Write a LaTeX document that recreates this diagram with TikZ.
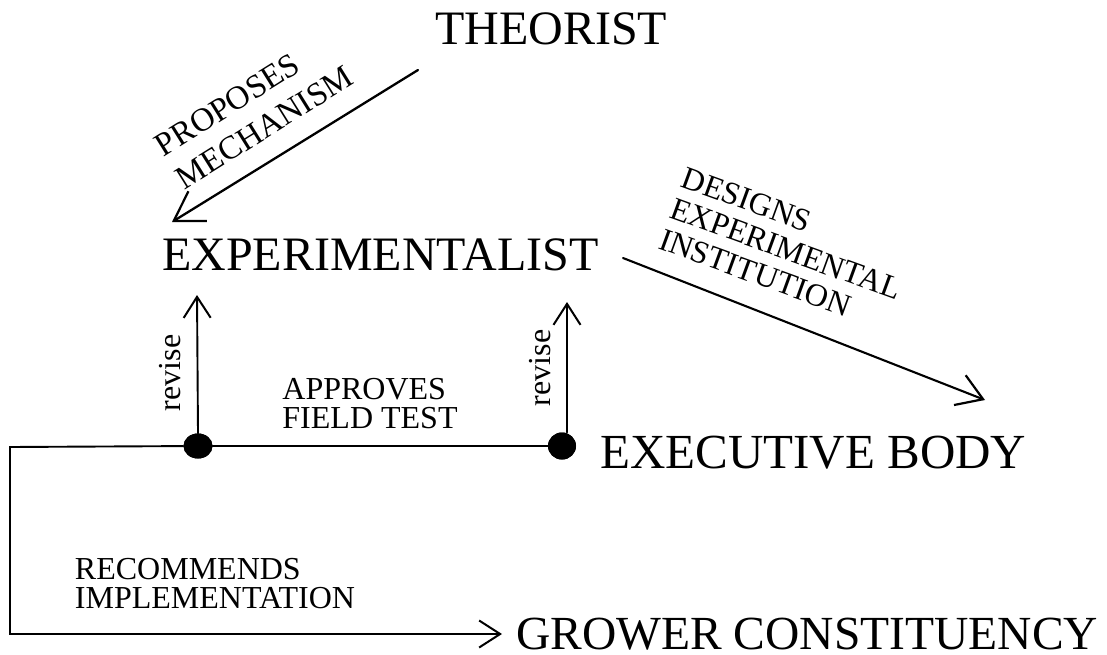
\documentclass[tikz,border=0pt]{standalone}
\usepackage{fontspec}
\setmainfont{Liberation Serif}
\usetikzlibrary{arrows.meta,shapes.geometric}
\begin{document}
\begin{tikzpicture}[x=1pt,y=-1pt,
  bigtext/.style={font=\fontsize{48}{50}\selectfont, inner sep=0pt, anchor=base west},
  smalltext/.style={font=\fontsize{32}{29}\selectfont, inner sep=0pt, align=left},
  conn/.style={line width=1.9pt, line cap=round},
  dotmark/.style={ellipse, fill=black, minimum width=29pt, minimum height=25pt, inner sep=0pt},
  bigbarb/.style={-{Straight Barb[length=28pt,width=35pt,line width=2.2pt]}},
  midbarb/.style={-{Straight Barb[length=25pt,width=32pt,line width=2.2pt]}},
  smallbarb/.style={-{Straight Barb[length=21pt,width=27pt,line width=2pt]}}
]
\useasboundingbox (0,0) rectangle (1107,655);
\fill[white] (0,0) rectangle (1107,655);

% actors
\node[bigtext] (theorist) at (435,45) {THEORIST};
\node[bigtext] (exper) at (162,270) {EXPERIMENTALIST};
\node[bigtext, font=\fontsize{49}{50}\selectfont] (exec) at (600,468) {EXECUTIVE BODY};
\node[bigtext, text depth=0pt, font=\fontsize{47.5}{50}\selectfont] (grower) at (516,649) {GROWER CONSTITUENCY};

% junction dots
\node[dotmark] (d1) at (198,446) {};
\node[dotmark, minimum width=28pt, minimum height=27pt] (d2) at (562,446) {};

% end points of the connectors
\coordinate (thS) at (418,70);
\coordinate (thE) at (172,222);
\coordinate (dsS) at (623,258);
\coordinate (dsE) at (985,400);
\coordinate (r1E) at (197,295);
\coordinate (r2E) at (567,302);
\coordinate (ltop) at (10,447);
\coordinate (gtip) at (502,634);

% connectors
\draw[conn, line width=2.3pt, bigbarb] (thS) -- (thE);
\draw[conn, line width=2.1pt, midbarb] (dsS) -- (dsE);
\draw[conn, smallbarb] (d1.north) -- (r1E);
\draw[conn, smallbarb] ([xshift=5pt]d2.north) -- (r2E);
\draw[conn] (d1) -- (d2);
\draw[conn, smallbarb] (d1) -- (ltop) |- (gtip);
\node[dotmark] at (d1) {};
\node[dotmark, minimum width=28pt, minimum height=27pt] at (d2) {};

% connector labels
\node[smalltext, rotate=32, font=\fontsize{33}{39}\selectfont] (propose) at (254,111) {PROPOSES\\MECHANISM};
\node[smalltext, rotate=-20, font=\fontsize{32}{33}\selectfont] (designs) at (786,249) {DESIGNS\\EXPERIMENTAL\\INSTITUTION};
\node[smalltext] (approve) at (370,404) {APPROVES\\FIELD TEST};
\node[smalltext] (recomm) at (215,584) {RECOMMENDS\\IMPLEMENTATION};
\node[smalltext, rotate=90] (rev1) at (170,373) {revise};
\node[smalltext, rotate=90] (rev2) at (540,368) {revise};
\end{tikzpicture}
\end{document}
